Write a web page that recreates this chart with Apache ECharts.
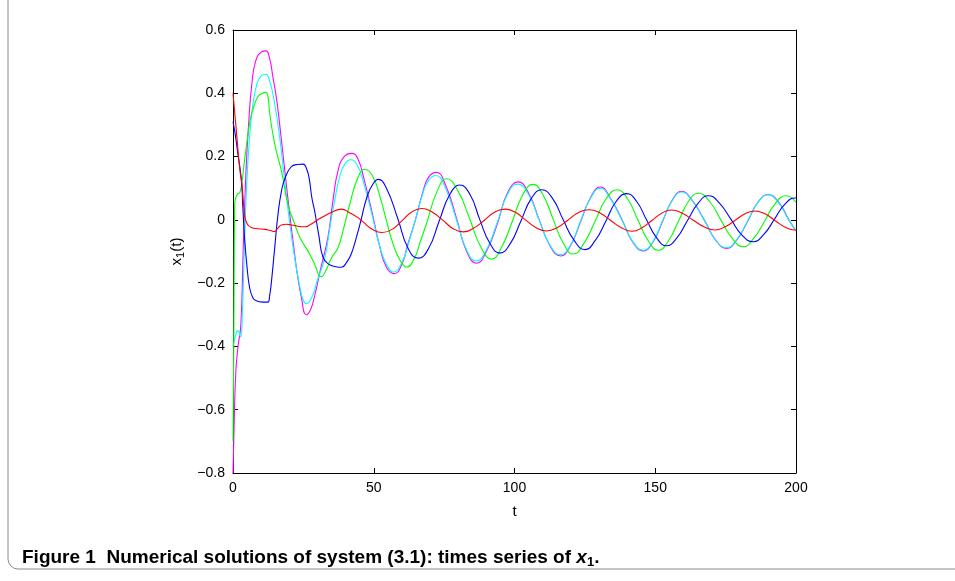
<!DOCTYPE html>
<html>
<head>
<meta charset="utf-8">
<script src="https://cdn.jsdelivr.net/npm/echarts@6/dist/echarts.min.js"></script>
<style>html,body{margin:0;padding:0;background:#fff}#c{width:955px;height:581px}</style>
</head>
<body>
<div id="c"></div>
<script>
// ---- data (t, x1(t)) ----
const xTicks = [0, 50, 100, 150, 200];
const yTicks = [-0.8, -0.6, -0.4, -0.2, 0, 0.2, 0.4, 0.6];

const magenta = [[0,-0.8],[0.4,-0.65],[1,-0.48],[1.8,-0.4],[2.8,-0.33],[3.6,-0.1],[4.6,0.15],[5.6,0.31],[6.7,0.43],[8,0.5],[10,0.53],[11.7,0.534],[13,0.51],[14.2,0.45],[15.4,0.387],[16.6,0.3],[18.4,0.155],[20,0.03],[21.9,-0.11],[23,-0.18],[24.3,-0.245],[26,-0.3],[27.5,-0.285],[29,-0.24],[31,-0.16],[33.7,-0.056],[35.5,0.06],[37.3,0.155],[39.5,0.2],[42.3,0.21],[44.5,0.19],[46.5,0.13],[49.5,0.02],[52,-0.08],[54.5,-0.15],[57.3,-0.17],[60,-0.14],[62,-0.08],[64.8,0.0],[67.5,0.09],[69.5,0.135],[72.3,0.15],[75.5,0.11],[79.4,0.005],[83,-0.1],[86.6,-0.137],[90,-0.1],[94,-0.01],[97.5,0.085],[101.3,0.12],[105,0.085],[108.8,0.0],[112.5,-0.08],[116.4,-0.114],[120,-0.08],[123.5,-0.005],[127,0.07],[130.5,0.104],[134,0.07],[138.2,0.0],[142,-0.07],[145.8,-0.098],[149.2,-0.07],[152.6,-0.005],[156,0.062],[159.4,0.09],[163,0.063],[167.4,0.0],[171.4,-0.063],[175.4,-0.09],[179,-0.063],[182.8,-0.005],[186.5,0.056],[190.2,0.08],[193.8,0.056],[197.5,0.0],[200,-0.035]];

const cyan = [[0,-0.4],[0.8,-0.37],[1.7,-0.35],[2.7,-0.37],[3.3,-0.3],[4,-0.1],[4.8,0.1],[5.8,0.25],[7,0.36],[8.5,0.43],[10,0.455],[11.6,0.46],[13,0.44],[14.8,0.367],[16.6,0.26],[18.4,0.12],[20,0.0],[21.9,-0.12],[23.5,-0.2],[24.8,-0.25],[26,-0.265],[28,-0.245],[30,-0.19],[32.6,-0.12],[34.5,-0.02],[36.1,0.06],[38,0.14],[40,0.18],[41.8,0.19],[44,0.175],[46,0.13],[49,0.03],[52,-0.08],[54.5,-0.14],[57,-0.165],[60,-0.135],[62.5,-0.07],[64.8,0.0],[67.5,0.085],[69.5,0.125],[72,0.14],[75.5,0.1],[79.2,0.005],[83,-0.095],[86.4,-0.13],[90,-0.095],[93.8,-0.01],[97.5,0.08],[101.1,0.113],[105,0.08],[108.7,0.0],[112.5,-0.078],[116.3,-0.11],[120,-0.078],[123.4,-0.005],[127,0.068],[130.5,0.1],[134,0.068],[138.1,0.0],[142,-0.068],[145.7,-0.096],[149.2,-0.068],[152.5,-0.005],[156,0.06],[159.3,0.088],[163,0.062],[167.3,0.0],[171.3,-0.062],[175.3,-0.088],[179,-0.062],[182.7,-0.005],[186.5,0.055],[190.1,0.079],[193.7,0.055],[197.4,0.0],[200,-0.035]];

const green = [[0,-0.7],[0.3,-0.35],[0.6,0.05],[1.5,0.08],[2.4,0.086],[3.2,0.12],[4,0.18],[5,0.25],[6,0.31],[7.1,0.35],[8.9,0.39],[10.5,0.4],[11.7,0.403],[12.4,0.39],[13,0.34],[14,0.28],[15.3,0.22],[17.2,0.155],[19.5,0.05],[21.9,-0.013],[24,-0.06],[26.6,-0.098],[29,-0.14],[31.3,-0.18],[33,-0.16],[35,-0.12],[37.3,-0.088],[39.5,-0.02],[41.5,0.05],[44.4,0.134],[46.9,0.16],[49.5,0.14],[52,0.08],[54.3,0.005],[57,-0.08],[59.5,-0.13],[61.7,-0.149],[64.5,-0.12],[66.5,-0.07],[68.8,-0.01],[72.5,0.09],[75.9,0.13],[80,0.09],[84,0.005],[88,-0.085],[91.9,-0.124],[95.5,-0.085],[99.2,-0.005],[103,0.08],[106.6,0.112],[110.2,0.078],[113.8,0.0],[117.4,-0.075],[120.9,-0.108],[124.6,-0.075],[128.6,-0.005],[132.5,0.066],[136.5,0.095],[140.2,0.066],[143.8,0.0],[147.5,-0.066],[151.1,-0.096],[154.7,-0.066],[158.2,-0.005],[161.8,0.058],[165.3,0.084],[169.3,0.058],[173.3,0.0],[177.3,-0.058],[181.3,-0.085],[185,-0.058],[188.8,-0.005],[192.5,0.05],[196.5,0.076],[200,0.055]];

const blue = [[0,0.31],[0.8,0.27],[1.7,0.21],[2.9,0.134],[3.5,0.04],[4.1,-0.056],[5,-0.15],[5.9,-0.214],[7,-0.245],[8.3,-0.256],[10.5,-0.26],[12.4,-0.26],[13,-0.24],[13.6,-0.2],[14.8,-0.09],[16,0.019],[17.2,0.09],[18.4,0.13],[20.6,0.167],[22.8,0.175],[24.9,0.176],[26.2,0.16],[27.2,0.123],[28,0.07],[29,0.028],[30.5,-0.05],[32,-0.119],[34,-0.14],[36.5,-0.148],[38.5,-0.15],[40.3,-0.135],[42,-0.108],[44,-0.05],[45.5,0.0],[47.5,0.07],[49.5,0.11],[51.6,0.128],[54.5,0.1],[58.5,0.005],[62.2,-0.09],[65.8,-0.121],[69.5,-0.09],[73.2,-0.005],[77,0.08],[80.6,0.11],[84.2,0.08],[87.7,0.0],[91.3,-0.075],[94.8,-0.105],[98.5,-0.075],[102.2,-0.005],[106,0.068],[109.7,0.095],[113.5,0.068],[117.3,0.0],[121.2,-0.065],[125,-0.094],[128.7,-0.065],[132.4,-0.005],[136.1,0.058],[139.8,0.083],[143.4,0.058],[146.9,0.0],[150.5,-0.057],[154,-0.082],[157.7,-0.057],[161.4,-0.003],[165.2,0.052],[168.9,0.076],[172.8,0.053],[176.8,0.003],[180.8,-0.048],[184.8,-0.069],[188.5,-0.047],[192.2,0.0],[195.9,0.048],[199.6,0.069],[200,0.069]];

const red = [[0,0.4],[0.7,0.33],[1.5,0.25],[2.4,0.16],[3.2,0.11],[4.1,0.02],[5,-0.012],[6.5,-0.024],[9,-0.028],[11.3,-0.03],[13,-0.033],[14.8,-0.037],[15.8,-0.028],[17.2,-0.016],[19,-0.014],[20.7,-0.016],[23,-0.02],[25.5,-0.022],[27.5,-0.015],[29.6,-0.003],[32,0.01],[34.9,0.023],[38.5,0.034],[41.5,0.022],[44.4,0.007],[46,-0.005],[49.5,-0.03],[53,-0.04],[56.5,-0.03],[60,-0.003],[63.5,0.025],[67,0.036],[70.7,0.025],[74.4,0.0],[78.1,-0.027],[81.8,-0.038],[85.5,-0.026],[89.2,-0.002],[92.9,0.024],[96.6,0.034],[100.3,0.024],[104,-0.001],[107.7,-0.025],[111.4,-0.035],[115.1,-0.025],[118.8,-0.002],[122.5,0.022],[126.5,0.032],[130.4,0.022],[134.2,-0.002],[138,-0.025],[141.8,-0.036],[145.3,-0.025],[148.8,-0.002],[152.3,0.021],[155.8,0.031],[159.6,0.021],[163.5,-0.001],[167.3,-0.022],[171.2,-0.032],[174.8,-0.022],[178.3,-0.002],[181.9,0.019],[185.4,0.028],[189,0.019],[192.5,-0.002],[196.5,-0.025],[200,-0.033]];

const seriesList = [
  {name: 'm', data: magenta, color: '#ff00ff'},
  {name: 'c', data: cyan, color: '#00ffff'},
  {name: 'g', data: green, color: '#00ff00'},
  {name: 'b', data: blue, color: '#0000ff'},
  {name: 'r', data: red, color: '#ff0000'}
];

const fontFam = '"Liberation Sans", Arial, Helvetica, sans-serif';
const fmt = v => {
  const s = (Math.round(v * 10) / 10).toString();
  return s.replace('-', '\u2212');
};

const chart = echarts.init(document.getElementById('c'), null, {renderer: 'canvas'});
chart.setOption({
  animation: false,
  backgroundColor: '#fff',
  grid: {left: 233, top: 30, width: 563, height: 443},
  xAxis: [{
    type: 'value', min: 0, max: 200, interval: 50, position: 'bottom',
    name: 't', nameLocation: 'middle', nameGap: 31,
    nameTextStyle: {fontFamily: fontFam, fontSize: 15, color: '#000'},
    axisLine: {show: true, onZero: false, lineStyle: {color: '#000', width: 1}},
    axisTick: {show: true, inside: true, length: 5, lineStyle: {color: '#000'}},
    axisLabel: {fontFamily: fontFam, fontSize: 14, color: '#000', margin: 8},
    splitLine: {show: false}
  }, {
    type: 'value', min: 0, max: 200, interval: 50, position: 'top',
    axisLine: {show: true, onZero: false, lineStyle: {color: '#000', width: 1}},
    axisTick: {show: true, inside: true, length: 5, lineStyle: {color: '#000'}},
    axisLabel: {show: false}, splitLine: {show: false}
  }],
  yAxis: [{
    type: 'value', min: -0.8, max: 0.6, interval: 0.2, position: 'left',
    name: '{a|x}{s|1}{a|(t)}', nameLocation: 'middle', nameGap: 47, nameRotate: 90,
    nameTextStyle: {
      color: '#000',
      rich: {
        a: {fontFamily: fontFam, fontSize: 15, color: '#000'},
        s: {fontFamily: fontFam, fontSize: 11, color: '#000', padding: [8, 0, 0, 0]}
      }
    },
    axisLine: {show: true, onZero: false, lineStyle: {color: '#000', width: 1}},
    axisTick: {show: true, inside: true, length: 5, lineStyle: {color: '#000'}},
    axisLabel: {fontFamily: fontFam, fontSize: 14, color: '#000', margin: 8, formatter: fmt},
    splitLine: {show: false}
  }, {
    type: 'value', min: -0.8, max: 0.6, interval: 0.2, position: 'right',
    axisLine: {show: true, onZero: false, lineStyle: {color: '#000', width: 1}},
    axisTick: {show: true, inside: true, length: 5, lineStyle: {color: '#000'}},
    axisLabel: {show: false}, splitLine: {show: false}
  }],
  series: seriesList.map(s => ({
    type: 'line', name: s.name, data: s.data,
    xAxisIndex: 0, yAxisIndex: 0,
    showSymbol: false, smooth: 0.5,
    lineStyle: {color: s.color, width: 1.1},
    itemStyle: {color: s.color},
    clip: true
  })),
  graphic: [
    {
      type: 'rect', silent: true,
      shape: {x: 8, y: -20, width: 1000, height: 589, r: 10},
      style: {fill: 'none', stroke: '#8a8a8a', lineWidth: 1}
    },
    {
      type: 'text', left: 22, top: 548, silent: true,
      style: {
        text: '{b|Figure 1  Numerical solutions of system (3.1): times series of }{i|x}{s|1}{b|.}',
        rich: {
          b: {fontFamily: fontFam, fontSize: 19, fontWeight: 'bold', fill: '#000'},
          i: {fontFamily: fontFam, fontSize: 19, fontWeight: 'bold', fontStyle: 'italic', fill: '#000'},
          s: {fontFamily: fontFam, fontSize: 13, fontWeight: 'bold', fill: '#000', padding: [9, 0, 0, 0]}
        }
      }
    }
  ]
});
</script>
</body>
</html>
